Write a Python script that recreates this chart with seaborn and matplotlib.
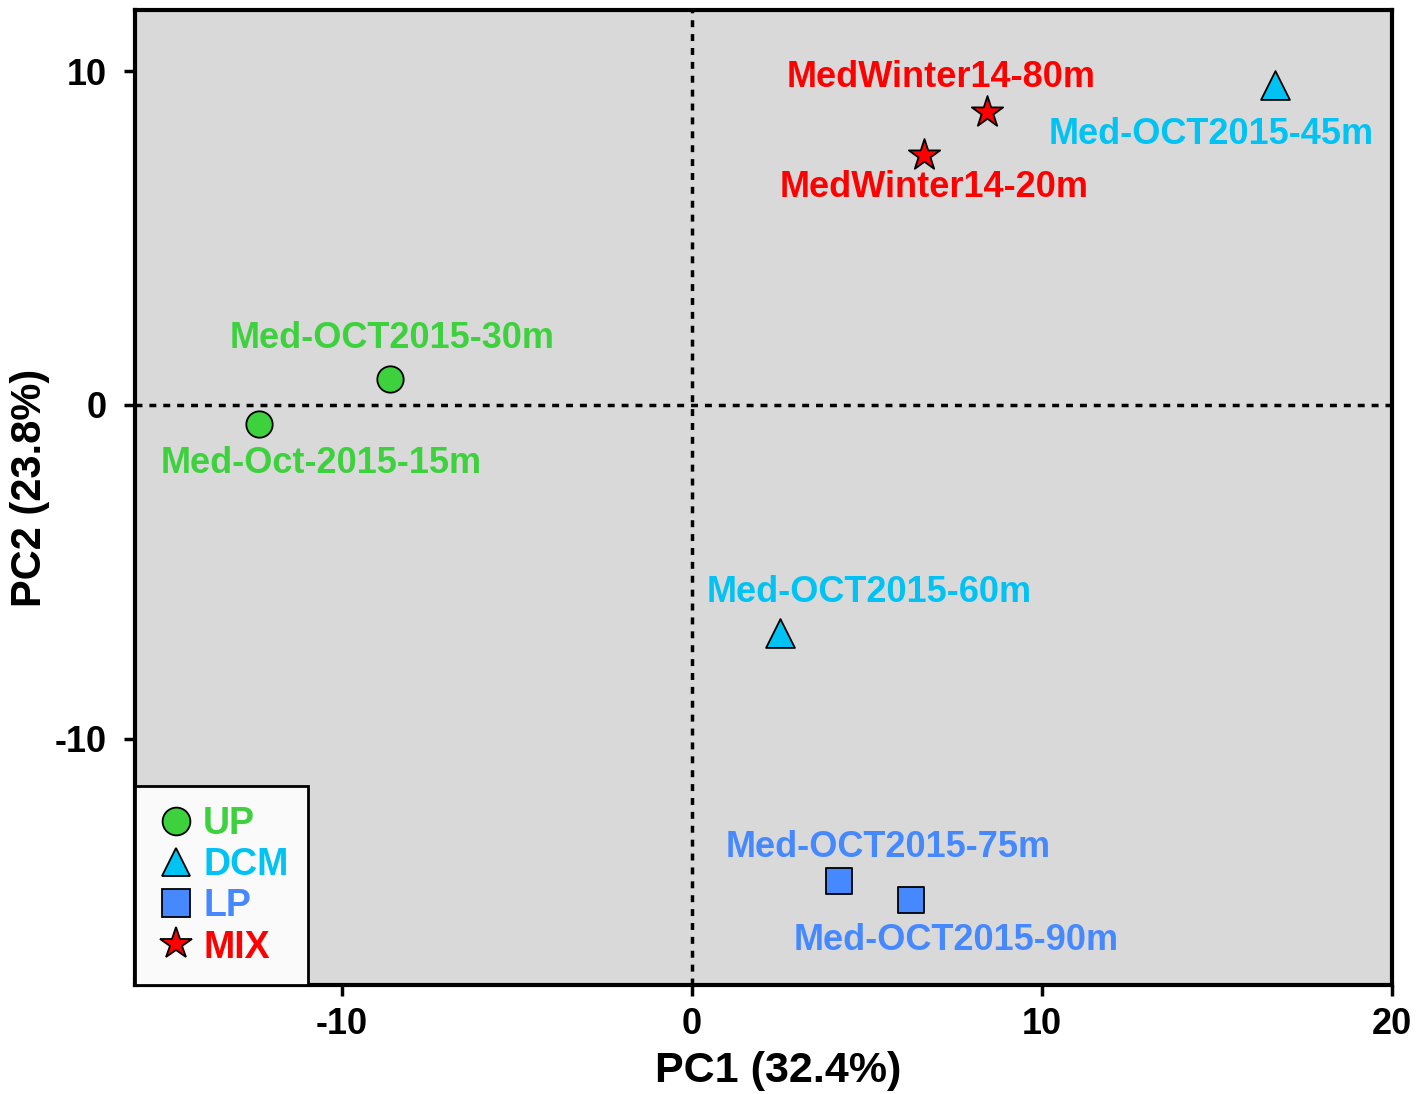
import matplotlib
matplotlib.use("Agg")
import matplotlib.pyplot as plt
import seaborn as sns
import pandas as pd
from matplotlib.lines import Line2D

samples = ["Med-Oct-2015-15m", "Med-OCT2015-30m", "Med-OCT2015-45m", "Med-OCT2015-60m",
           "Med-OCT2015-75m", "Med-OCT2015-90m", "MedWinter14-20m", "MedWinter14-80m"]
groups = ["UP", "UP", "DCM", "DCM", "LP", "LP", "MIX", "MIX"]
pc1 = [-12.37, -8.63, 16.66, 2.51, 4.20, 6.26, 6.63, 8.43]
pc2 = [-0.57, 0.78, 9.58, -6.83, -14.25, -14.82, 7.49, 8.77]

group_order = ["UP", "DCM", "LP", "MIX"]
colors = {"UP": "#3ed13e", "DCM": "#00c3f3", "LP": "#4689ff", "MIX": "#ff0000"}
markers = {"UP": "o", "DCM": "^", "LP": "s", "MIX": "*"}
sizes = {"UP": 360, "DCM": 430, "LP": 340, "MIX": 560}

# label offsets in pixels (style)
offsets = [(63, -39), (3, 40), (-64, -49), (90, 41), (49, 33), (45, -41), (10, -33), (-46, 35)]

df = pd.DataFrame({"sample": samples, "group": groups, "PC1": pc1, "PC2": pc2})

sns.set_style("white")
plt.rcParams["font.family"] = ["Liberation Sans", "DejaVu Sans"]
plt.rcParams["font.weight"] = "bold"
plt.rcParams["axes.unicode_minus"] = False
plt.rcParams["text.color"] = "black"
plt.rcParams["axes.labelcolor"] = "black"
plt.rcParams["xtick.color"] = "black"
plt.rcParams["ytick.color"] = "black"

fig = plt.figure(figsize=(14.24, 10.94), dpi=100)
ax = fig.add_axes([0.0948, 0.0996, 0.9775 - 0.0948, 0.9909 - 0.0996])
ax.set_facecolor("#d9d9d9")

ax.axhline(0, color="black", lw=2.5, ls=(0, (2, 2)), zorder=1)
ax.axvline(0, color="black", lw=2.5, ls=(0, (2, 2)), zorder=1)

for g in group_order:
    sub = df[df["group"] == g]
    sns.scatterplot(data=sub, x="PC1", y="PC2", marker=markers[g], color=colors[g],
                    s=sizes[g], edgecolor="black", linewidth=1.3, ax=ax, zorder=3, legend=False)

for name, g, x, y, (dx, dy) in zip(samples, groups, pc1, pc2, offsets):
    ax.annotate(name, (x, y), xytext=(dx, dy), textcoords="offset pixels",
                ha="center", va="center", color=colors[g], fontsize=26, fontweight="bold")

ax.set_xlim(-15.9, 20)
ax.set_ylim(-17.37, 11.83)
ax.set_xticks([-10, 0, 10, 20])
ax.set_yticks([-10, 0, 10])
ax.tick_params(axis="both", which="major", length=8, width=2.5, direction="out",
               labelsize=26, bottom=True, left=True, pad=8, colors="black")
ax.tick_params(axis="y", pad=12)
for lab in ax.get_xticklabels() + ax.get_yticklabels():
    lab.set_fontweight("bold")
for sp in ax.spines.values():
    sp.set_linewidth(3)
    sp.set_color("black")

ax.set_xlabel("PC1 (32.4%)", fontsize=31, fontweight="bold", labelpad=8, color="black")
ax.set_ylabel("PC2 (23.8%)", fontsize=30, fontweight="bold", labelpad=8, color="black")
ax.xaxis.set_label_coords(0.512, -0.068)
ax.yaxis.set_label_coords(-0.068, 0.51)

handles = [Line2D([0], [0], marker=markers[g], color="none", markerfacecolor=colors[g],
                  markeredgecolor="black", markersize=(24 if g == "MIX" else 20), markeredgewidth=1.3,
                  label=g) for g in group_order]
leg = ax.legend(handles=handles, loc="lower left", bbox_to_anchor=(0, 0), borderaxespad=0,
                frameon=True, fancybox=False, fontsize=27, handletextpad=0.15,
                labelspacing=0.14, borderpad=0.52, handlelength=1.15)
leg.get_frame().set_edgecolor("black")
leg.get_frame().set_linewidth(2)
leg.get_frame().set_facecolor("#fafafa")
leg.get_frame().set_alpha(1)
for t, g in zip(leg.get_texts(), group_order):
    t.set_color(colors[g])
    t.set_fontweight("bold")

fig.savefig("out.png", dpi=100)
